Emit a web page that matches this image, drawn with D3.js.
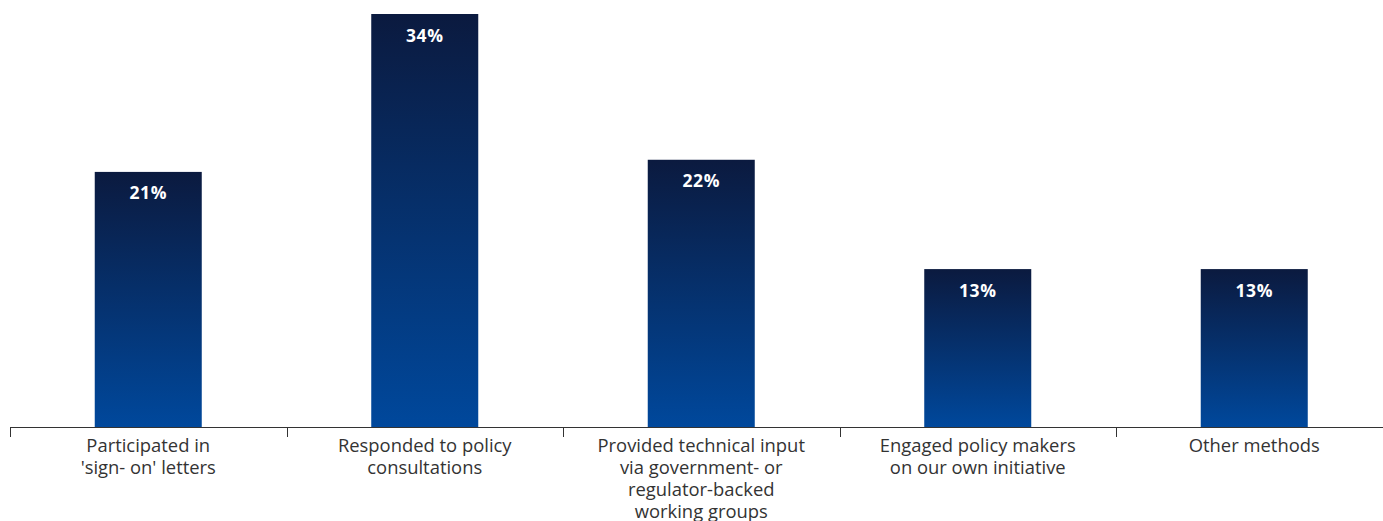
<!DOCTYPE html>
<html>
<head>
<meta charset="utf-8">
<script src="https://cdn.jsdelivr.net/npm/d3@7"></script>
<style>
  html, body { margin: 0; padding: 0; background: #fff; }
  svg { display: block; }
</style>
</head>
<body>
<svg id="chart" width="1383" height="521"></svg>
<script>
// Engagement methods and the share of respondents using each
const categories = [
  "Participated in 'sign- on' letters",
  "Responded to policy consultations",
  "Provided technical input via government- or regulator-backed working groups",
  "Engaged policy makers on our own initiative",
  "Other methods"
];
const values = [21, 34, 22, 13, 13];
// Wrapped axis labels, one array of lines per category
const tickLabels = [
  ["Participated in", "'sign- on' letters"],
  ["Responded to policy", "consultations"],
  ["Provided technical input", "via government- or", "regulator-backed", "working groups"],
  ["Engaged policy makers", "on our own initiative"],
  ["Other methods"]
];

const svg = d3.select("#chart");
const baseY = 427;
const topY = 14;

const x = d3.scaleBand()
  .domain(categories)
  .range([10, 1392.5])
  .paddingInner(0.613)
  .paddingOuter(0.3065);

const y = d3.scaleLinear()
  .domain([0, 34])
  .range([baseY, topY]);

const defs = svg.append("defs");
const grad = defs.append("linearGradient")
  .attr("id", "barGrad")
  .attr("x1", 0).attr("y1", 0)
  .attr("x2", 0).attr("y2", 1);
grad.append("stop").attr("offset", "0%").attr("stop-color", "#0b1a3f");
grad.append("stop").attr("offset", "100%").attr("stop-color", "#00489c");

// Bars
svg.append("g")
  .selectAll("rect")
  .data(values)
  .join("rect")
  .attr("x", (d, i) => x(categories[i]))
  .attr("y", d => y(d))
  .attr("width", x.bandwidth())
  .attr("height", d => y(0) - y(d))
  .attr("fill", "url(#barGrad)");

// Value labels inside bar tops
svg.append("g")
  .selectAll("text")
  .data(values)
  .join("text")
  .attr("x", (d, i) => x(categories[i]) + x.bandwidth() / 2)
  .attr("y", d => y(d) + 27.5)
  .attr("text-anchor", "middle")
  .attr("fill", "#ffffff")
  .style("font-family", "'Open Sans', 'Noto Sans', sans-serif")
  .style("font-weight", "700")
  .style("font-size", "17.5px")
  .style("letter-spacing", "0.6px")
  .text(d => d + "%");

// Category axis with ticks on band boundaries
const axisG = svg.append("g").attr("class", "x-axis");
const step = x.step();
const start = x.range()[0];

axisG.append("line")
  .attr("x1", start).attr("x2", x.range()[1])
  .attr("y1", baseY + 0.5).attr("y2", baseY + 0.5)
  .attr("stroke", "#333").attr("stroke-width", 1);

axisG.selectAll("line.tick")
  .data(d3.range(categories.length))
  .join("line")
  .attr("class", "tick")
  .attr("x1", i => Math.round(start + i * step) + 0.5)
  .attr("x2", i => Math.round(start + i * step) + 0.5)
  .attr("y1", baseY)
  .attr("y2", baseY + 10)
  .attr("stroke", "#333").attr("stroke-width", 1);

const labelG = axisG.selectAll("text")
  .data(tickLabels)
  .join("text")
  .attr("x", (d, i) => x(categories[i]) + x.bandwidth() / 2)
  .attr("y", baseY + 25)
  .attr("text-anchor", "middle")
  .attr("fill", "#333")
  .style("font-family", "'Open Sans', 'Noto Sans', sans-serif")
  .style("font-size", "18.4px");

labelG.selectAll("tspan")
  .data(d => d)
  .join("tspan")
  .attr("x", function () { return d3.select(this.parentNode).attr("x"); })
  .attr("dy", (d, i) => i === 0 ? 0 : 22)
  .text(d => d);
</script>
</body>
</html>
